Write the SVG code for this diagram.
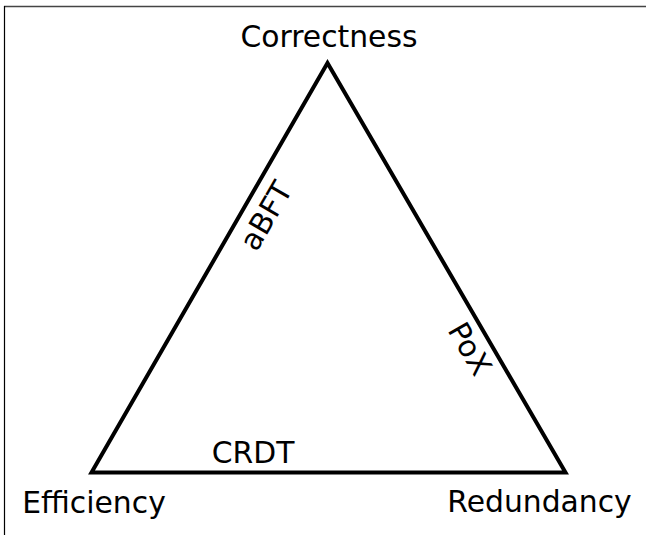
<svg xmlns="http://www.w3.org/2000/svg" width="646" height="535" viewBox="0 0 646 535">
<style>
text{font-family:"DejaVu Sans","Liberation Sans",sans-serif;font-size:29.8px;fill:#000}
.edge{fill:none;stroke:#000;stroke-width:4;stroke-linejoin:miter}
</style>
<rect width="646" height="535" fill="#fff"/>
<g id="frame">
<line x1="4" y1="6.5" x2="646" y2="6.5" stroke="#444" stroke-width="1.6"/>
<line x1="4.5" y1="6" x2="4.5" y2="535" stroke="#000" stroke-width="1.2"/>
</g>
<g id="connectors">
<path class="edge" d="M327.5,63 L91.5,472.5 L565.5,472.5 Z"/>
<text transform="translate(275,221) rotate(-60)" text-anchor="middle">aBFT</text>
<text transform="translate(461,354) rotate(60)" text-anchor="middle">PoX</text>
<text x="253" y="462.5" text-anchor="middle">CRDT</text>
</g>
<g id="correctness"><text x="329" y="46.5" text-anchor="middle">Correctness</text></g>
<g id="efficiency"><text x="94" y="513" text-anchor="middle">Efficiency</text></g>
<g id="redundancy"><text x="539.5" y="512" text-anchor="middle">Redundancy</text></g>
</svg>
